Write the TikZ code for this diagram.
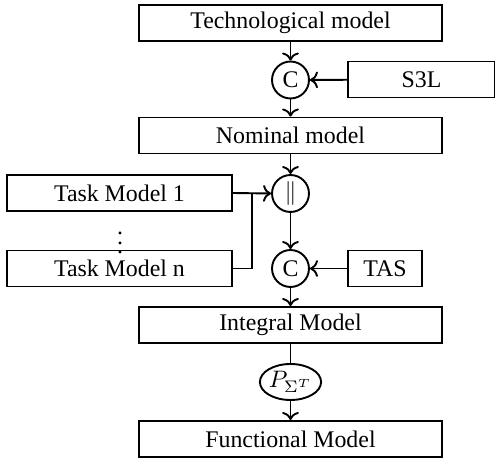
\documentclass[tikz,border=0pt]{standalone}
\usepackage{fontspec}
\setmainfont{Liberation Serif}
\usetikzlibrary{shapes.geometric,arrows.meta}
\begin{document}
\begin{tikzpicture}[x=0.4193pt,y=-0.4193pt,
  every node/.style={font=\fontsize{10}{12}\selectfont},
  box/.style={draw,thick,rectangle,inner sep=0pt,minimum height=15.1pt},
  wide/.style={box,minimum width=127pt},
  task/.style={box,minimum width=94.3pt},
  op/.style={draw,thick,circle,inner sep=0pt,minimum size=15.5pt},
  link/.style={thick,->},
  plain/.style={thick}]
\useasboundingbox (0,0) rectangle (495,462);
\node[wide] (tech) at (290.5,23) {Technological model};
\node[op] (c1) at (290.5,80) {C};
\node[box,minimum width=61.6pt] (s3l) at (421.5,79.5) {S3L};
\node[wide] (nom) at (290.5,135.5) {Nominal model};
\node[op] (par) at (290.5,193.5) {$\|$};
\node[task] (tm1) at (119.5,193) {Task Model 1};
\node[task] (tmn) at (119.5,268.5) {Task Model n};
\node (dots) at (120,236) {$\vdots$};
\node[op] (c2) at (290.5,268.5) {C};
\node[box,minimum width=31pt] (tas) at (385,268.5) {TAS};
\node[wide] (integ) at (290.5,325) {Integral Model};
\node[draw,thick,ellipse,inner sep=0pt,minimum width=24.7pt,minimum height=15.1pt] (proj) at (290.5,382) {$P_{\Sigma^T}$};
\node[wide] (func) at (290.5,439) {Functional Model};
\coordinate (j) at (252,193);
\draw[link] (tech) -- (c1);
\draw[link] (s3l) -- (c1);
\draw[link] (c1) -- (nom);
\draw[link] (nom) -- (par);
\draw[link] (tm1.east) -- (par.west);
\draw[plain] (tmn.east) -| (j);
\draw[link] (par) -- (c2);
\draw[link] (tas) -- (c2);
\draw[link] (c2) -- (integ);
\draw[plain] (integ) -- (proj);
\draw[link] (proj) -- (func);
\end{tikzpicture}
\end{document}
